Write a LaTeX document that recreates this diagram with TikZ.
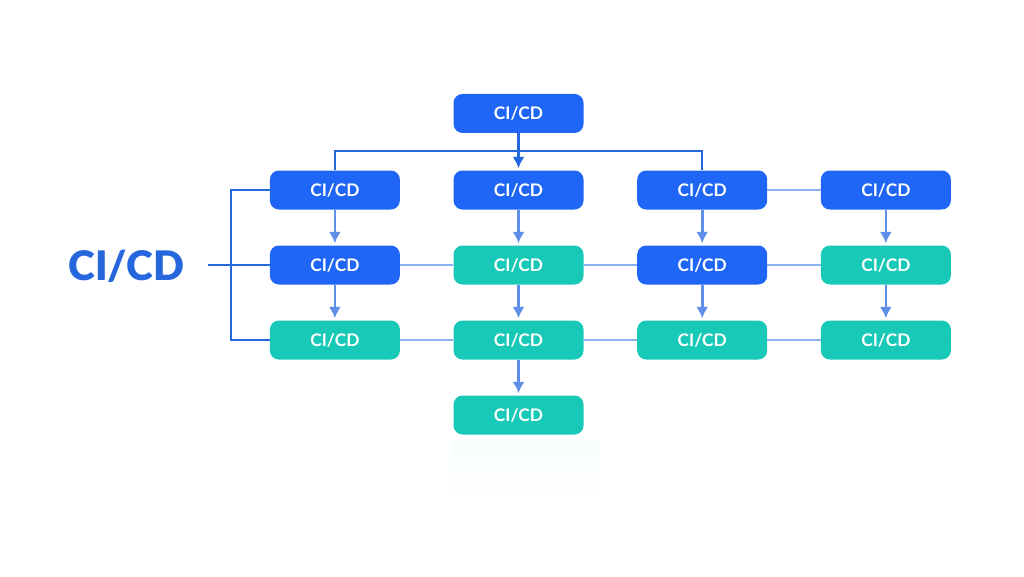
\documentclass[tikz,border=0pt]{standalone}
\usepackage{fontspec}
\setmainfont{Lato}
\newfontfamily\titlefont{Lato Black}
\usetikzlibrary{arrows.meta,positioning}
\definecolor{bluebox}{HTML}{1F66F6}
\definecolor{tealbox}{HTML}{17C9B6}
\definecolor{darkline}{HTML}{2767DE}
\definecolor{midline}{HTML}{5F8FE8}
\definecolor{paleline}{HTML}{8DB2F1}
\definecolor{glow}{HTML}{F8FDFE}
\tikzset{%
	block/.style    = {rectangle, rounded corners=6.75pt, minimum height=29.25pt, minimum width=97.5pt, inner sep=0pt, text=white, font=\bfseries\fontsize{13pt}{15pt}\selectfont},
	bluestep/.style = {block, fill=bluebox},
	tealstep/.style = {block, fill=tealbox},
	waypoint/.style = {coordinate},
	title/.style    = {text=darkline, inner sep=0pt, yshift=-1.2pt, font=\titlefont\fontsize{30.5pt}{34pt}\selectfont},
	bus/.style      = {draw=darkline, line width=1.7pt},
	link/.style     = {draw=paleline, line width=2pt},
	arrow/.style    = {draw=midline, line width=2pt, -{Latex[length=8.5pt,width=9pt]}, shorten >=1.5pt},
}
\begin{document}
\begin{tikzpicture}[node distance = 137.75pt]
	\useasboundingbox (0,0) rectangle (768pt,-432pt);
	\node[bluestep] (root) at (388.9pt,-85.1pt) {CI/CD};
	\node[bluestep,below of=root,node distance = 57.4pt] (b1) {CI/CD};
	\node[bluestep,left of=b1] (a1) {CI/CD};
	\node[bluestep,right of=b1] (c1) {CI/CD};
	\node[bluestep,right of=c1] (d1) {CI/CD};
	\node[bluestep,below of=a1,node distance = 56.25pt] (a2) {CI/CD};
	\node[tealstep,below of=b1,node distance = 56.25pt] (b2) {CI/CD};
	\node[bluestep,below of=c1,node distance = 56.25pt] (c2) {CI/CD};
	\node[tealstep,below of=d1,node distance = 56.25pt] (d2) {CI/CD};
	\node[tealstep,below of=a2,node distance = 56.25pt] (a3) {CI/CD};
	\node[tealstep,below of=b2,node distance = 56.25pt] (b3) {CI/CD};
	\node[tealstep,below of=c2,node distance = 56.25pt] (c3) {CI/CD};
	\node[tealstep,below of=d2,node distance = 56.25pt] (d3) {CI/CD};
	\node[tealstep,below of=b3,node distance = 56.25pt] (b4) {CI/CD};
	\node[title,left of=a2,node distance = 156.4pt] (title) {CI/CD};
	\node[waypoint,below of=root,node distance = 28.1pt] (wp1) {};
	\node[waypoint,left of=a1,node distance = 78pt] (wp2) {};
	\node[waypoint,left of=a2,node distance = 95.25pt] (wp3) {};
	
	\shade[top color=glow,bottom color=white] (338pt,-330pt) rectangle (450pt,-378pt);
	\draw[bus] (a1.north) |- (wp1) -| (c1.north);
	\draw[bus] (a1.west) -- (wp2) |- (a3.west);
	\draw[bus] (wp3) -- (a2.west);
	\draw[arrow,draw=darkline] (root) -- (b1);
	\draw[link] (c1) -- (d1);
	\draw[link] (a2) -- (b2);
	\draw[link] (b2) -- (c2);
	\draw[link] (c2) -- (d2);
	\draw[link] (a3) -- (b3);
	\draw[link] (b3) -- (c3);
	\draw[link] (c3) -- (d3);
	\draw[arrow] (a1) -- (a2);
	\draw[arrow] (b1) -- (b2);
	\draw[arrow] (c1) -- (c2);
	\draw[arrow] (d1) -- (d2);
	\draw[arrow] (a2) -- (a3);
	\draw[arrow] (b2) -- (b3);
	\draw[arrow] (c2) -- (c3);
	\draw[arrow] (d2) -- (d3);
	\draw[arrow] (b3) -- (b4);
\end{tikzpicture}
\end{document}
